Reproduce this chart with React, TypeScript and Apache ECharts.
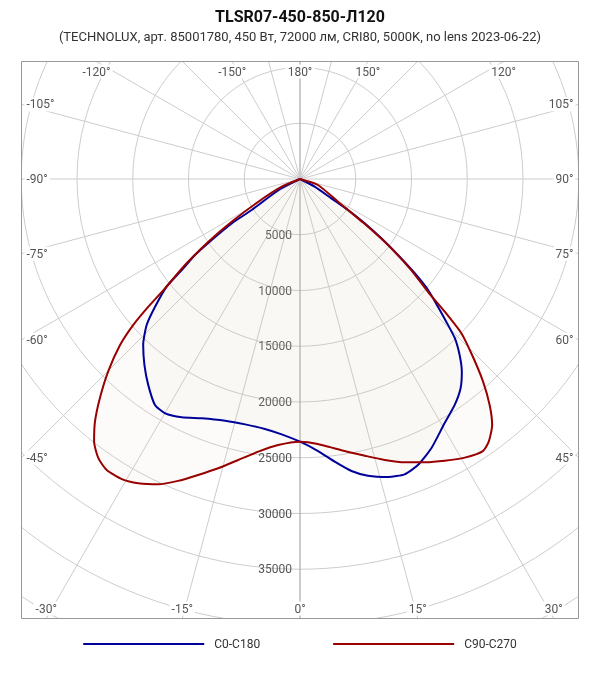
import React, { useEffect, useRef } from 'react';
import * as echarts from 'echarts';

// luminous intensity, cd (angle 0 = nadir)
const c0Angles = [
  -90, -63.4, -57.3, -57.0, -55.4, -54.1, -52.4, -51.1, -48.6, -46.4,
  -43.4, -39.9, -36.4, -32.7, -29.9, -26.4, -22.3, -17.2, -12.6, -8.0,
  -4.1, 0, 3.8, 7.0, 10.0, 12.9, 16.5, 19.5, 22.4, 26.0,
  30.6, 34.4, 37.5, 40.0, 42.2, 44.2, 45.7, 47.2, 49.1, 50.6,
  52.2, 53.9, 55.6, 57.1, 58.3, 62.4, 90,
];
const c0Values = [
  0, 2000, 5150, 7300, 9620, 11620, 13390, 15370, 17330, 18990,
  20470, 21750, 22940, 24080, 24250, 23860, 23200, 22700, 22550, 22640,
  22960, 23560, 24450, 25540, 26590, 27300, 27870, 28100, 27750, 26870,
  25460, 24560, 23660, 22580, 21310, 19920, 18330, 16860, 15200, 13320,
  11120, 9030, 7030, 5130, 3300, 1490, 0,
];
const c90Angles = [
  -90, -67.2, -61.4, -58.0, -55.6, -53.2, -51.0, -49.9, -48.8, -47.3,
  -44.9, -42.4, -40.2, -38.1, -35.8, -33.6, -30.7, -28.0, -24.9, -22.0,
  -19.0, -15.8, -12.4, -8.7, -4.7, 0, 1.7, 5.3, 9.3, 13.2,
  16.8, 20.3, 23.8, 27.2, 30.6, 33.9, 35.7, 38.0, 40.0, 42.1,
  44.2, 46.3, 47.5, 48.6, 50.7, 53.1, 55.3, 59.1, 71.6, 90,
];
const c90Values = [
  0, 1780, 4260, 7230, 9960, 12880, 15580, 17780, 19870, 21960,
  24380, 26620, 28490, 29930, 30900, 31330, 31300, 30900, 30190, 29200,
  28070, 26960, 25800, 24740, 23940, 23560, 23630, 24020, 24720, 25490,
  26320, 27090, 27760, 28400, 29030, 29400, 29010, 27990, 26460, 24490,
  22240, 20020, 17610, 15300, 12890, 9870, 6950, 3970, 1700, 0,
];
const angleTicks = [-120, -105, -90, -75, -60, -45, -30, -15, 0, 15, 30, 45, 60, 75, 90, 105, 120, 150, 180, -150];
const radiusTicks = [5000, 10000, 15000, 20000, 25000, 30000, 35000];

const CX = 300;
const CY = 179;
const BOX = { left: 21.5, top: 61.5, right: 578.5, bottom: 618.5 };
const PX_PER_CD = 0.01115;
const R_MAX = 50000;

const toPolar = (angles: number[], values: number[]) =>
  angles.map((a, i) => [values[i], a < 0 ? a + 360 : a]);

// where the ray of an angle leaves the frame
const angleLabel = (a: number) => {
  const rad = (a * Math.PI) / 180;
  const dx = Math.sin(rad);
  const dy = Math.cos(rad);
  const hits: { t: number; side: string }[] = [];
  if (dx < -1e-9) hits.push({ t: (BOX.left - CX) / dx, side: 'left' });
  if (dx > 1e-9) hits.push({ t: (BOX.right - CX) / dx, side: 'right' });
  if (dy < -1e-9) hits.push({ t: (BOX.top - CY) / dy, side: 'top' });
  if (dy > 1e-9) hits.push({ t: (BOX.bottom - CY) / dy, side: 'bottom' });
  hits.sort((p, q) => p.t - q.t);
  const { t, side } = hits[0];
  let x = CX + dx * t;
  let y = CY + dy * t;
  let align = 'center';
  let verticalAlign = 'middle';
  if (side === 'left') { x = BOX.left + 3; align = 'left'; }
  if (side === 'right') { x = BOX.right - 3; align = 'right'; }
  if (side === 'top') { y = BOX.top + 3; verticalAlign = 'top'; }
  if (side === 'bottom') { y = BOX.bottom - 3; verticalAlign = 'bottom'; }
  return {
    type: 'text',
    z: 11,
    x,
    y,
    style: {
      text: `${a}°`,
      fill: '#555',
      font: '12px Roboto',
      align,
      verticalAlign,
      backgroundColor: '#fff',
      padding: [1, 2],
    },
  };
};

const App = () => {
  const chartRef = useRef<HTMLDivElement>(null);

  useEffect(() => {
    if (!chartRef.current) return;
    const chart = echarts.init(chartRef.current, undefined, { renderer: 'svg' });

    const mask = (x: number, y: number, width: number, height: number) => ({
      type: 'rect',
      z: 10,
      shape: { x, y, width, height },
      style: { fill: '#fff' },
    });

    chart.setOption({
      animation: false,
      textStyle: { fontFamily: 'Roboto' },
      title: {
        text: 'TLSR07-450-850-Л120',
        subtext: '(TECHNOLUX, арт. 85001780, 450 Вт, 72000 лм, CRI80, 5000K, no lens 2023-06-22)',
        left: 'center',
        top: 8,
        padding: 0,
        itemGap: 6,
        z: 20,
        textStyle: { fontSize: 16, fontWeight: 'bold', color: '#111', fontFamily: 'Roboto' },
        subtextStyle: { fontSize: 13, color: '#333', fontFamily: 'Roboto' },
      },
      legend: {
        top: 638,
        left: 'center',
        padding: 0,
        icon: 'rect',
        itemWidth: 121,
        itemHeight: 2,
        itemGap: 73,
        z: 20,
        textStyle: { fontSize: 12, color: '#333', padding: [0, 0, 0, 5] },
        data: ['C0-C180', 'C90-C270'],
      },
      polar: { center: [CX, CY], radius: R_MAX * PX_PER_CD },
      angleAxis: {
        type: 'value',
        min: 0,
        max: 360,
        interval: 15,
        startAngle: 270,
        clockwise: false,
        axisLine: { show: false },
        axisTick: { show: false },
        axisLabel: { show: false },
        splitLine: {
          show: true,
          lineStyle: {
            color: ['#999', '#ccc', '#ccc', '#ccc', '#ccc', '#ccc', '#ccc', '#ccc', '#ccc', '#ccc', '#ccc', '#ccc'],
            width: 1,
          },
        },
      },
      radiusAxis: {
        type: 'value',
        min: 0,
        max: R_MAX,
        interval: 5000,
        axisLine: { show: false },
        axisTick: { show: false },
        axisLabel: {
          color: '#555',
          fontSize: 12,
          fontFamily: 'Roboto',
          margin: -8,
          align: 'right',
          verticalAlign: 'middle',
          formatter: (v: number) => (radiusTicks.includes(v) ? String(v) : ''),
        },
        splitLine: { show: true, lineStyle: { color: '#ccc', width: 1 } },
      },
      graphic: [
        mask(0, 0, 600, BOX.top),
        mask(0, BOX.bottom, 600, 680 - BOX.bottom),
        mask(0, BOX.top, BOX.left, BOX.bottom - BOX.top),
        mask(BOX.right, BOX.top, 600 - BOX.right, BOX.bottom - BOX.top),
        {
          type: 'rect',
          z: 12,
          shape: { x: BOX.left, y: BOX.top, width: BOX.right - BOX.left, height: BOX.bottom - BOX.top },
          style: { fill: 'none', stroke: '#999', lineWidth: 1 },
        },
        ...angleTicks.map(angleLabel),
      ],
      series: [
        {
          name: 'C0-C180',
          type: 'line',
          coordinateSystem: 'polar',
          data: toPolar(c0Angles, c0Values),
          symbol: 'none',
          showSymbol: false,
          smooth: 0.2,
          lineStyle: { color: '#00009b', width: 2 },
          itemStyle: { color: '#00009b' },
          areaStyle: { color: 'rgba(215, 205, 165, 0.1)' },
        },
        {
          name: 'C90-C270',
          type: 'line',
          coordinateSystem: 'polar',
          data: toPolar(c90Angles, c90Values),
          symbol: 'none',
          showSymbol: false,
          smooth: 0.2,
          lineStyle: { color: '#990000', width: 2 },
          itemStyle: { color: '#990000' },
          areaStyle: { color: 'rgba(215, 205, 165, 0.1)' },
        },
      ],
    });

    return () => {
      chart.dispose();
    };
  }, []);

  return <div ref={chartRef} style={{ position: 'fixed', left: 0, top: 0, width: 600, height: 680 }} />;
};

export default App;
